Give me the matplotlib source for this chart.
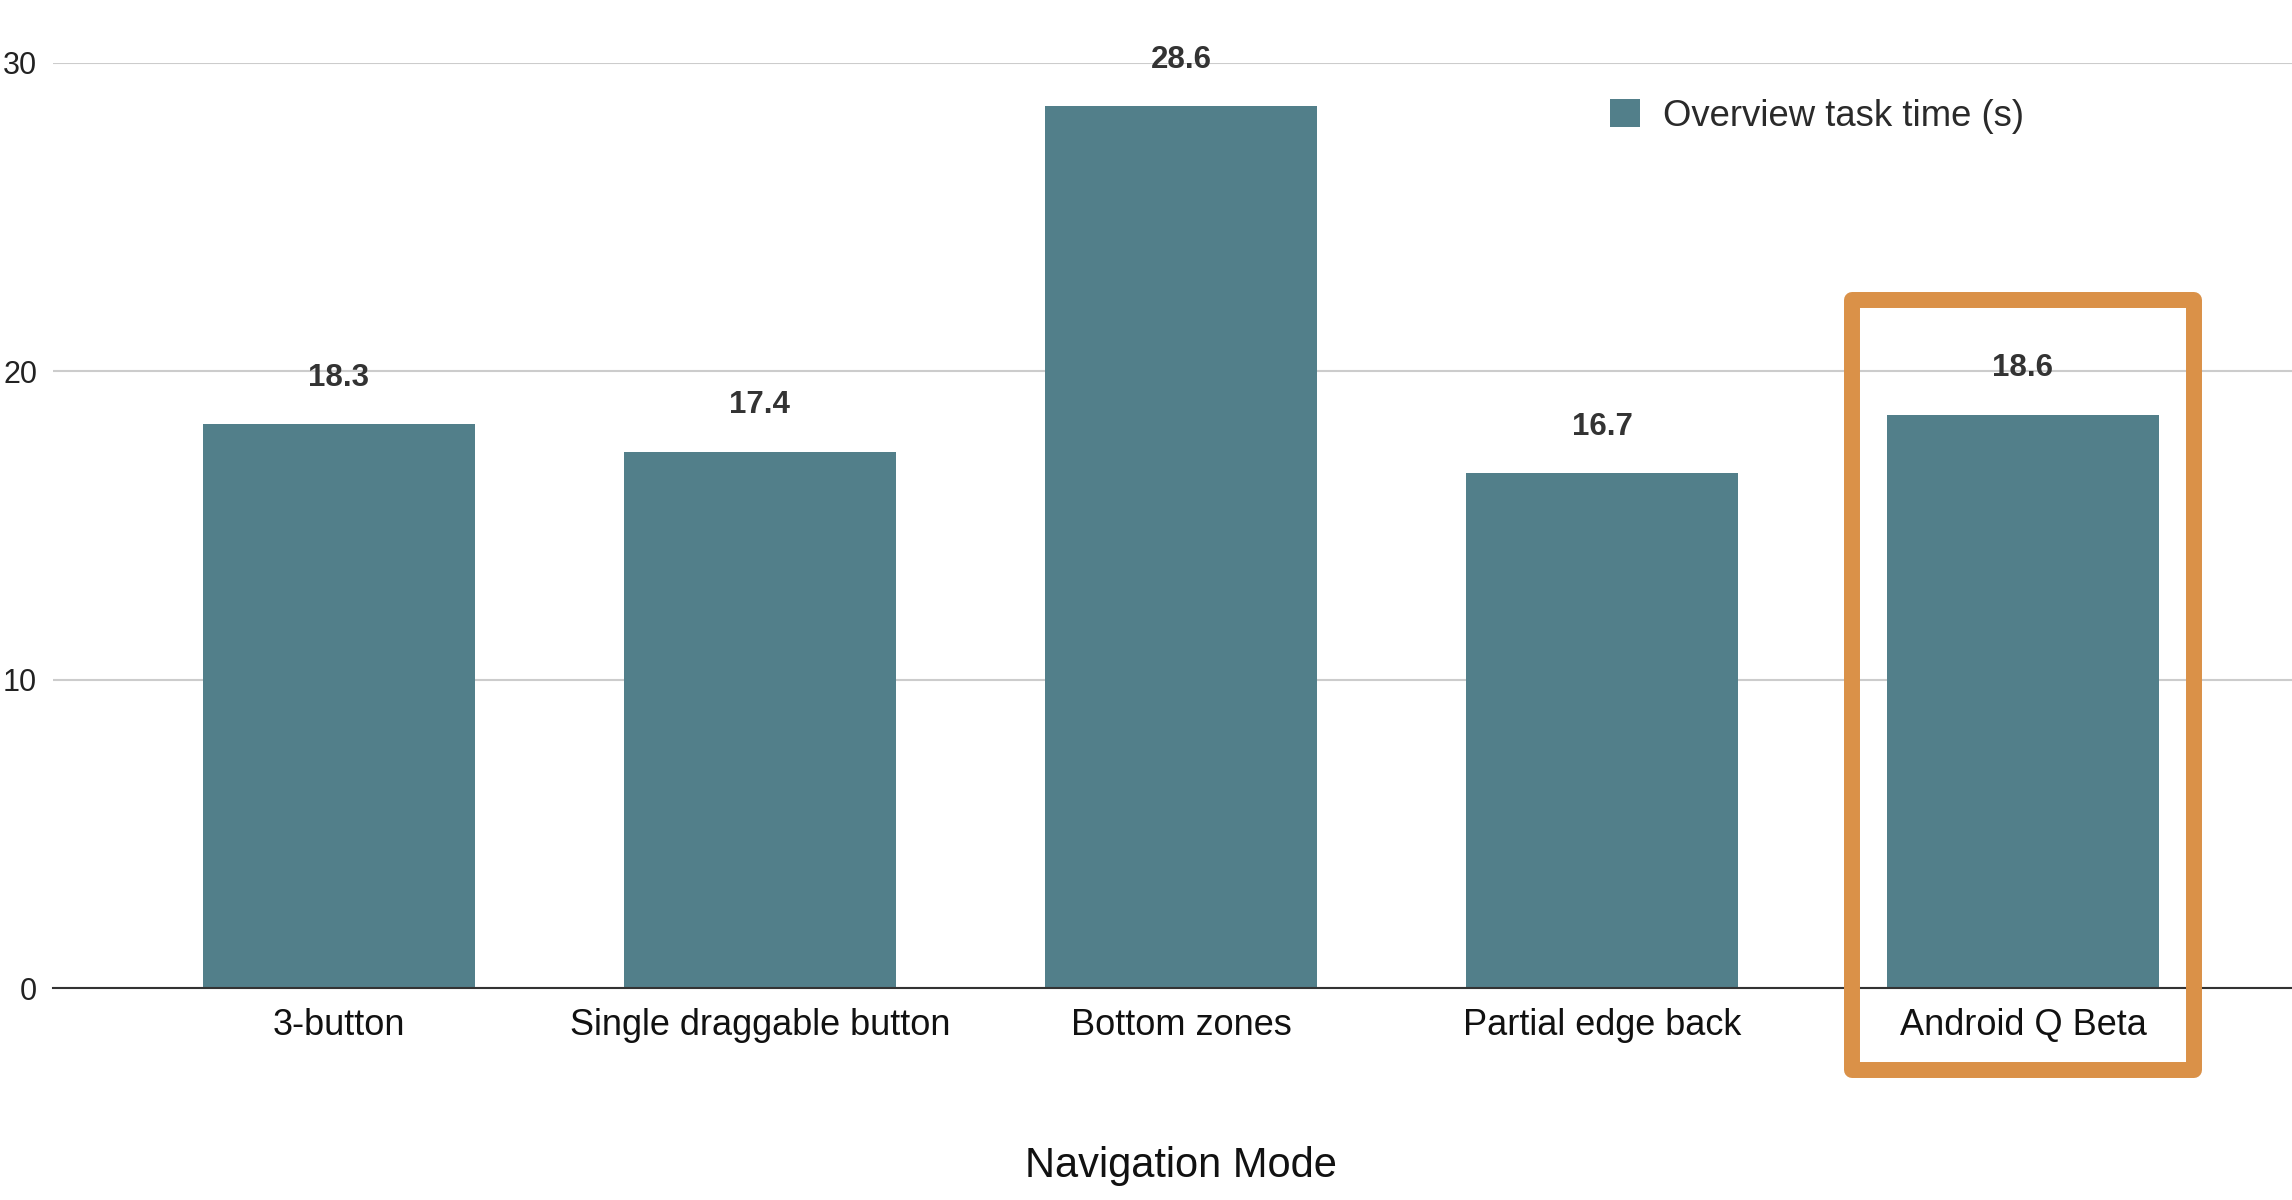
import matplotlib
matplotlib.use("Agg")
import matplotlib.pyplot as plt
import matplotlib.transforms as mtransforms
from matplotlib.patches import Rectangle, Patch

# data
modes = ["3-button", "Single draggable button", "Bottom zones", "Partial edge back", "Android Q Beta"]
task_time = [18.3, 17.4, 28.6, 16.7, 18.6]
highlight = "Android Q Beta"

bar_color = "#527f8a"
box_color = "#da9148"

plt.rcParams["font.family"] = ["Liberation Sans", "DejaVu Sans"]

fig = plt.figure(figsize=(22.92, 12), dpi=100)
ax = fig.add_axes([53 / 2292, 212 / 1200, 1 - 53 / 2292, 925 / 1200])

x = list(range(len(modes)))
ax.bar(x, task_time, width=0.646, color=bar_color, zorder=2)

# value labels above bars
for xi, v in zip(x, task_time):
    ax.annotate(f"{v}", (xi, v), xytext=(0, 27.5), textcoords="offset points",
                ha="center", va="baseline", fontsize=22.5, fontweight="bold",
                color="#333333", zorder=3)

ax.set_ylim(0, 30)
ax.set_xlim(-0.679, 4.639)
ax.set_yticks([0, 10, 20, 30])
ax.set_xticks(x)
ax.set_xticklabels(modes)
ax.tick_params(axis="y", length=0, pad=11.5, labelsize=22, labelcolor="#222222")
ax.tick_params(axis="x", length=0, pad=14.5, labelsize=26, labelcolor="#111111")

ax.grid(axis="y", color="#cccccc", linewidth=1.5, zorder=0)
ax.set_axisbelow(True)
for side in ["top", "right", "left"]:
    ax.spines[side].set_visible(False)
ax.spines["bottom"].set_color("#333333")
ax.spines["bottom"].set_linewidth(1.5)
ax.spines["bottom"].set_zorder(3)

# x axis title, centred on the middle category
trans = mtransforms.blended_transform_factory(ax.transData, fig.transFigure)
ax.text(2, 0.0192, "Navigation Mode", transform=trans, ha="center", va="baseline",
        fontsize=30, color="#111111")

# legend
handle = Patch(facecolor=bar_color, edgecolor="none")
ax.legend([handle], ["Overview task time (s)"], loc="center left",
          bbox_to_anchor=(1610 / 2292, 1 - 116 / 1200), bbox_transform=fig.transFigure,
          frameon=False, fontsize=26.3, handlelength=0.82, handleheight=0.82,
          handletextpad=0.63, borderpad=0, borderaxespad=0, labelcolor="#2a2a2a")

# orange highlight box round the last category
hi = modes.index(highlight)
box = Rectangle((hi - 0.406, -2.66), 0.812, 22.3 + 2.66, fill=False,
                edgecolor=box_color, linewidth=11.5, joinstyle="round",
                clip_on=False, zorder=4)
ax.add_patch(box)

fig.savefig("out.png", dpi=100)
